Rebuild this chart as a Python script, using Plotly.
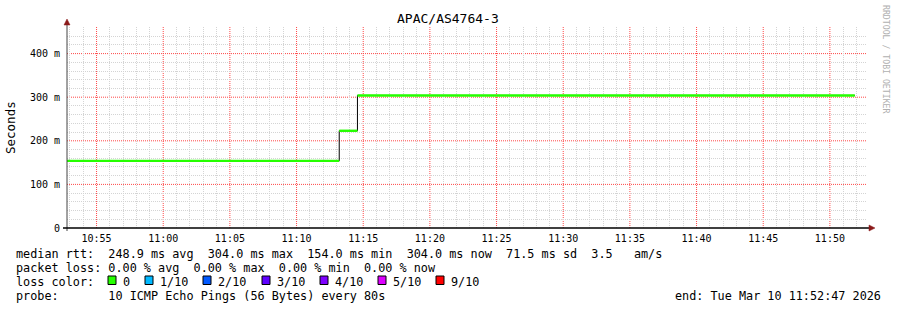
import plotly.graph_objects as go
import pandas as pd

# ---- data ----
seg_start = ["2026-03-10 10:52:47", "2026-03-10 11:13:12", "2026-03-10 11:14:34"]
seg_end = ["2026-03-10 11:13:12", "2026-03-10 11:14:34", "2026-03-10 11:51:52"]
median_ms = [154.0, 223.0, 304.0]

x_start = "2026-03-10 10:52:47"
x_end = "2026-03-10 11:52:47"
y_max = 461.0

y_tickvals = [0, 100, 200, 300, 400]
y_ticktext = ["0", "100 m", "200 m", "300 m", "400 m"]

title_text = "APAC/AS4764-3"
y_title = "Seconds"
line_rtt = "median rtt:  248.9 ms avg  304.0 ms max  154.0 ms min  304.0 ms now  71.5 ms sd  3.5   am/s"
line_loss = "packet loss: 0.00 % avg  0.00 % max  0.00 % min  0.00 % now"
line_color_lbl = "loss color:"
loss_labels = ["0", "1/10", "2/10", "3/10", "4/10", "5/10", "9/10"]
loss_colors = ["#26ff00", "#00b8ff", "#0059ff", "#5e00ff", "#7e00ff", "#dd00ff", "#ff0000"]
line_probe = "probe:       10 ICMP Echo Pings (56 Bytes) every 80s"
end_text = "end: Tue Mar 10 11:52:47 2026"
credit = "RRDTOOL / TOBI OETIKER"

# ---- layout geometry (pixels) ----
W, H = 897, 310
L, R, T, B = 67, 867, 27, 228


def px(x):
    return (x - L) / (R - L)


def py(y):
    return (B - y) / (B - T)


MONO = "DejaVu Sans Mono"

fig = go.Figure()

# black step line
bx = list(seg_start) + [seg_end[-1]]
by = list(median_ms) + [median_ms[-1]]
fig.add_trace(go.Scatter(x=bx, y=by, mode="lines", line=dict(color="#000000", width=1, shape="hv"),
                         hoverinfo="skip", showlegend=False))

# green loss-coloured segments
gx, gy = [], []
for s, e, v in zip(seg_start, seg_end, median_ms):
    gx += [s, e, None]
    gy += [v, v, None]
fig.add_trace(go.Scatter(x=gx, y=gy, mode="lines", line=dict(color=loss_colors[0], width=2.4),
                         hoverinfo="skip", showlegend=False))

major_grid = "#ff4848"
minor_grid = "#d4d4d4"

shapes = []
# major grid (red dotted) as below-layer lines
x_major = [m.strftime("%Y-%m-%d %H:%M:%S")
           for m in pd.date_range("2026-03-10 10:55:00", "2026-03-10 11:50:00", freq="5min")]
for xm in x_major:
    shapes.append(dict(type="line", xref="x", yref="paper", x0=xm, x1=xm, y0=0, y1=1, layer="below",
                       line=dict(color=major_grid, width=1, dash="1px,1px")))
for yv in y_tickvals[1:]:
    shapes.append(dict(type="line", xref="paper", yref="y", x0=0, x1=1, y0=yv, y1=yv, layer="below",
                       line=dict(color=major_grid, width=1, dash="1px,1px")))

# axis lines
shapes.append(dict(type="line", xref="paper", yref="paper", x0=px(67), x1=px(67), y0=py(231), y1=py(22),
                   line=dict(color="#444444", width=1)))
shapes.append(dict(type="line", xref="paper", yref="paper", x0=px(63), x1=px(870), y0=py(228), y1=py(228),
                   line=dict(color="#000000", width=1.3)))
# arrow heads
shapes.append(dict(type="path", xref="paper", yref="paper",
                   path=f"M {px(64)},{py(25)} L {px(70)},{py(25)} L {px(67)},{py(19)} Z",
                   fillcolor="#8b1a1a", line=dict(color="#8b1a1a", width=0.5)))
shapes.append(dict(type="path", xref="paper", yref="paper",
                   path=f"M {px(869)},{py(225)} L {px(869)},{py(231)} L {px(875)},{py(228)} Z",
                   fillcolor="#8b1a1a", line=dict(color="#8b1a1a", width=0.5)))

# loss colour boxes
box_lefts = [108, 145, 203, 262, 320, 378, 436]
for bl, c in zip(box_lefts, loss_colors):
    shapes.append(dict(type="rect", xref="paper", yref="paper",
                       x0=px(bl), x1=px(bl + 8), y0=py(284.5), y1=py(276),
                       fillcolor=c, line=dict(color="#000000", width=1)))

annotations = []


def txt(x, y, s, size=11.8, anchor="left", color="#000000", angle=0, family=MONO):
    annotations.append(dict(x=px(x), y=py(y), xref="paper", yref="paper", text=s, showarrow=False,
                            xanchor=anchor, yanchor="middle", textangle=angle, borderpad=0,
                            font=dict(family=family, size=size, color=color)))


txt(448, 19, title_text, size=13, anchor="center")
txt(11, 127, y_title, size=12.5, anchor="center", angle=-90)
txt(15, 254, line_rtt.replace(" ", "&nbsp;"))
txt(15, 268, line_loss.replace(" ", "&nbsp;"))
txt(15, 282, line_color_lbl)
for bl, lab in zip(box_lefts, loss_labels):
    txt(bl + 14, 282, lab)
txt(15, 296, line_probe.replace(" ", "&nbsp;"))
txt(882, 296, end_text.replace(" ", "&nbsp;"), anchor="right")
txt(886, 59, credit, size=8.2, anchor="center", color="#b0b0b0", angle=90)

# minor grid positions, excluding the major ones
minutes = pd.date_range("2026-03-10 10:53:00", "2026-03-10 11:52:00", freq="1min")
x_minor = [m.strftime("%Y-%m-%d %H:%M:%S") for m in minutes if m.minute % 5 != 0]
y_minor = [v for v in range(20, int(y_max), 20) if v % 100 != 0]

fig.update_layout(
    width=W, height=H,
    margin=dict(l=L, r=W - R, t=T, b=H - B),
    paper_bgcolor="#ffffff", plot_bgcolor="#ffffff",
    shapes=shapes, annotations=annotations,
    showlegend=False,
    xaxis=dict(
        type="date", range=[x_start, x_end],
        tick0="2026-03-10 10:55:00", dtick=300000, tickformat="%H:%M",
        showgrid=False,
        minor=dict(tickmode="array", tickvals=x_minor, showgrid=True,
                   gridcolor=minor_grid, griddash="1px,1px", gridwidth=1),
        showline=False, zeroline=False, ticks="",
        tickfont=dict(family=MONO, size=10, color="#000000"),
        ticklabelstandoff=3,
        fixedrange=True,
    ),
    yaxis=dict(
        range=[0, y_max], tickvals=y_tickvals, ticktext=y_ticktext,
        showgrid=False,
        minor=dict(tickmode="array", tickvals=y_minor, showgrid=True,
                   gridcolor=minor_grid, griddash="1px,1px", gridwidth=1),
        showline=False, zeroline=False, ticks="",
        tickfont=dict(family=MONO, size=10, color="#000000"),
        ticklabelstandoff=6,
        fixedrange=True,
    ),
)

fig.write_html("out.html")
